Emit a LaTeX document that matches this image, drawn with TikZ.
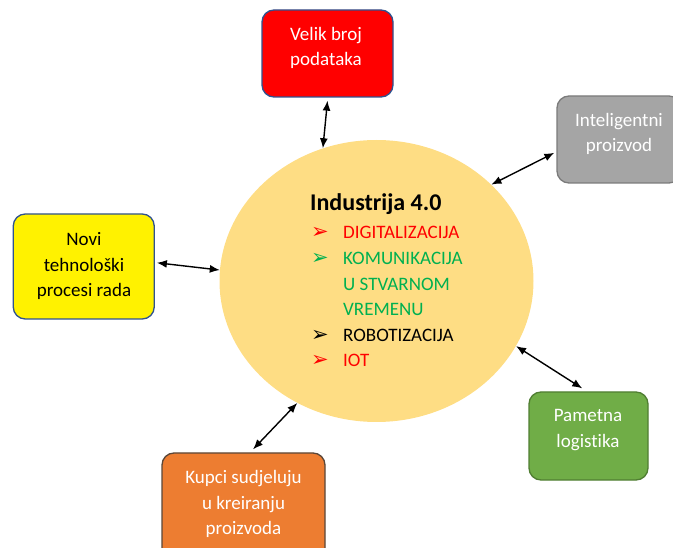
\documentclass[tikz,border=0pt]{standalone}
\usepackage{fontspec}
\setmainfont{Carlito}[Ligatures=NoCommon, RawFeature=-liga]
\newfontfamily\symfont{DejaVu Sans}
\usetikzlibrary{shapes.geometric,arrows.meta}

\definecolor{ellfill}{HTML}{FEDD84}
\definecolor{itemred}{HTML}{FF0000}
\definecolor{itemgreen}{HTML}{00B050}
\definecolor{edgeblue}{HTML}{2F528F}
\definecolor{boxgray}{HTML}{A5A5A5}
\definecolor{edgegray}{HTML}{7B7B7B}
\definecolor{boxgreen}{HTML}{70AD47}
\definecolor{edgegreen}{HTML}{507E32}
\definecolor{boxorange}{HTML}{ED7D31}
\definecolor{edgeorange}{HTML}{5A4638}

\tikzset{
  box/.style={draw, line width=1.3pt, rounded corners=12pt, inner sep=0pt},
  boxtext/.style={align=center, inner sep=0pt, font=\fontsize{19}{25.5}\selectfont},
  item/.style={anchor=base west, inner sep=0pt, font=\fontsize{19}{25.5}\selectfont},
  bullet/.style={anchor=base west, inner sep=0pt, font=\symfont\fontsize{21}{21}\selectfont},
  link/.style={{Latex[length=10pt,width=8pt]}-{Latex[length=10pt,width=8pt]}, line width=1.4pt}
}

\begin{document}
\begin{tikzpicture}[x=1pt,y=-1pt]

  \useasboundingbox (0,0) rectangle (673,548);

  \node[ellipse, fill=ellfill, inner sep=0pt, minimum width=314pt, minimum height=282pt] (ind) at (376.5,281) {};

  \node[box, fill=itemred, draw=edgeblue, minimum width=131pt, minimum height=87pt] (podaci) at (327.5,53.5) {};
  \node[box, fill=boxgray, draw=edgegray, minimum width=124pt, minimum height=87pt] (proizvod) at (619,139.5) {};
  \node[box, fill=yellow, draw=edgeblue, minimum width=141pt, minimum height=105pt] (novi) at (83.75,266.5) {};
  \node[box, fill=boxgreen, draw=edgegreen, minimum width=119pt, minimum height=88pt] (logistika) at (588.5,436) {};
  \node[box, fill=boxorange, draw=edgeorange, minimum width=163pt, minimum height=107pt] (kupci) at (243.5,506.5) {};

  \node[boxtext, text=white] (podaci-txt) at (326,48) {Velik broj\\podataka};
  \node[boxtext, text=white] (proizvod-txt) at (619,134) {Inteligentni\\proizvod};
  \node[boxtext] (novi-txt) at (84,266) {Novi\\tehnološki\\procesi rada};
  \node[boxtext, text=white] (logistika-txt) at (588,430) {Pametna\\logistika};
  \node[boxtext, text=white] (kupci-txt) at (243.5,504) {Kupci sudjeluju\\u kreiranju\\proizvoda};

  \node[anchor=base west, inner sep=0pt, font=\fontsize{24}{29}\selectfont\bfseries] (naslov) at (310,210.5) {Industrija 4.0};
  \foreach \t/\c [count=\i] in {DIGITALIZACIJA/itemred, KOMUNIKACIJA/itemgreen, U STVARNOM/itemgreen, VREMENU/itemgreen, ROBOTIZACIJA/black, IOT/itemred}
    \node[item, text=\c] (item\i) at (343,213.4+25.6*\i) {\t};
  \foreach \i/\c in {1/itemred, 2/itemgreen, 5/black, 6/itemred}
    \node[bullet, text=\c] (mark\i) at (311,213.4+25.6*\i) {➢};

  \draw[link] ([yshift=-3pt]podaci.south) -- (ind.112.6);
  \draw[link] ([xshift=-2pt]proizvod.192.8) -- (ind.40.4);
  \draw[link] ([xshift=2pt]novi.3.6) -- (ind.176);
  \draw[link] ([yshift=3pt]logistika.98.5) -- (ind.-25.2);
  \draw[link] ([yshift=3pt]kupci.80) -- (ind.-123.2);

\end{tikzpicture}
\end{document}
